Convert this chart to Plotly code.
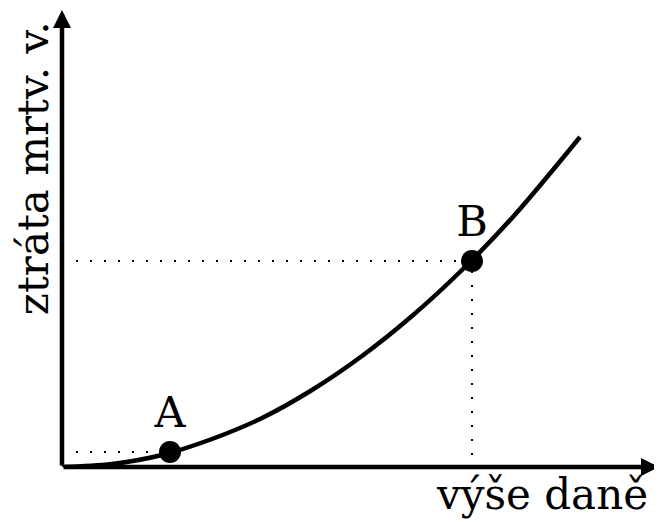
import plotly.graph_objects as go

# curve (x, y in px from origin)
curve_x = [0, 50, 100, 150, 200, 250, 300, 350, 400, 450, 518]
curve_y = [0, 3, 12, 28, 49, 77, 111, 151, 197, 249, 330]

point_names = ["A", "B"]
point_x = [108, 410]
point_y = [15, 206]

x_title = "výše daně"
y_title = "ztráta mrtv. v."

FONT = "DejaVu Serif"

fig = go.Figure()

# dotted guides
fig.add_trace(go.Scatter(x=[0, point_x[0]], y=[point_y[0], point_y[0]], mode="lines",
                         line=dict(color="black", width=2, dash="2px,12px")))
fig.add_trace(go.Scatter(x=[0, point_x[1], point_x[1]], y=[point_y[1], point_y[1], 0], mode="lines",
                         line=dict(color="black", width=2, dash="2px,12px")))

fig.add_trace(go.Scatter(x=curve_x, y=curve_y, mode="lines", line=dict(color="black", width=4.5, shape="spline")))

fig.add_trace(go.Scatter(x=point_x, y=point_y, mode="markers+text", text=point_names,
                         textposition="top center", textfont=dict(family=FONT, size=43, color="black"),
                         marker=dict(color="black", size=22)))

# axes with arrows
fig.add_annotation(x=597, y=0, ax=0, ay=0, axref="x", ayref="y", text="", showarrow=True,
                   arrowhead=2, arrowwidth=4.5, arrowsize=0.8, arrowcolor="black")
fig.add_annotation(x=0, y=457, ax=0, ay=0, axref="x", ayref="y", text="", showarrow=True,
                   arrowhead=2, arrowwidth=4.5, arrowsize=0.8, arrowcolor="black")

fig.add_annotation(x=0.98, xref="paper", y=-0.002, yref="paper", text=x_title, showarrow=False,
                   xanchor="right", yanchor="top", font=dict(family=FONT, size=42, color="black"))
fig.add_annotation(x=-0.048, xref="paper", y=299, yref="y", text=y_title, showarrow=False,
                   textangle=-90, xanchor="center", yanchor="middle",
                   font=dict(family=FONT, size=42, color="black"))

# page body has an 8px margin, so the figure is 8px smaller
fig.update_layout(
    width=654, height=514,
    margin=dict(l=54, r=0, t=0, b=55),
    plot_bgcolor="white", paper_bgcolor="white",
    showlegend=False,
    xaxis=dict(range=[0, 600], visible=False),
    yaxis=dict(range=[0, 459], visible=False),
)

fig.write_html("out.html")
